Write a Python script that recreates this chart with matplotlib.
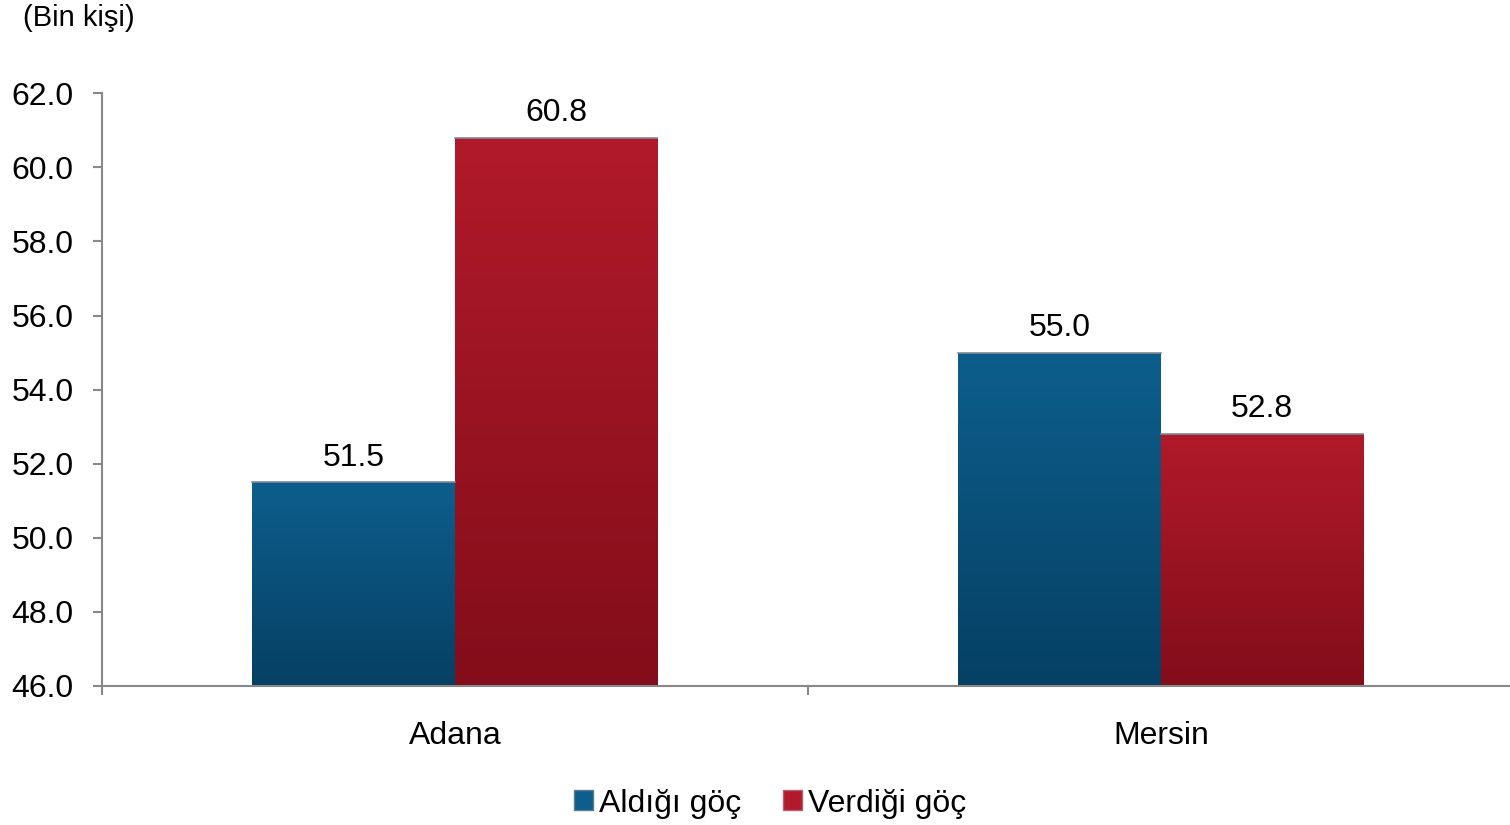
import numpy as np
import matplotlib.pyplot as plt
from matplotlib.colors import LinearSegmentedColormap
from matplotlib.patches import Patch

plt.rcParams['font.family'] = ['Liberation Sans', 'DejaVu Sans']

cities = ['Adana', 'Mersin']
aldigi = [51.5, 55.0]
verdigi = [60.8, 52.8]
series_names = ['Aldığı göç', 'Verdiği göç']

blue_top, blue_bot = '#0d5e8c', '#064064'
red_top, red_bot = '#b11a2a', '#830d1a'

fig = plt.figure(figsize=(15.1, 8.25), dpi=100)
ax = fig.add_axes([0.0675, 0.1685, 0.935, 0.7185])

x = np.arange(len(cities))
w = 0.287
ymin = 46.0

b1 = ax.bar(x - w / 2, np.array(aldigi) - ymin, w, bottom=ymin, color='none')
b2 = ax.bar(x + w / 2, np.array(verdigi) - ymin, w, bottom=ymin, color='none')


def gradient_fill(bars, top, bot):
    cmap = LinearSegmentedColormap.from_list('g', [bot, top])
    grad = np.linspace(0, 1, 256).reshape(-1, 1)
    for p in bars:
        x0, y0 = p.get_x(), p.get_y()
        x1, y1 = x0 + p.get_width(), y0 + p.get_height()
        im = ax.imshow(grad, cmap=cmap, origin='lower', aspect='auto',
                       extent=[x0, x1, y0, y1], zorder=2, interpolation='bilinear')
        im.set_clip_path(p)
        ax.plot([x0, x1], [y1, y1], color='#7f8a94', lw=1.2, zorder=3)


gradient_fill(b1, blue_top, blue_bot)
gradient_fill(b2, red_top, red_bot)

ax.bar_label(b1, labels=['%.1f' % v for v in aldigi], padding=7, fontsize=23)
ax.bar_label(b2, labels=['%.1f' % v for v in verdigi], padding=7, fontsize=23)

ax.set_xlim(-0.5, 1.5)
ax.set_ylim(46, 62)
ax.set_yticks(np.arange(46, 62.1, 2))
ax.set_yticklabels(['%.1f' % v for v in np.arange(46, 62.1, 2)], fontsize=23)
ax.set_xticks([-0.5, 0.5, 1.5])
ax.set_xticklabels([])
ax.set_xticks(x, minor=True)
ax.set_xticklabels(cities, minor=True, fontsize=23)
ax.tick_params(axis='x', which='minor', length=0, pad=25)
ax.tick_params(axis='x', which='major', length=6.5, width=1.5, color='#888888', direction='out')
ax.tick_params(axis='y', length=6.5, width=1.5, color='#888888', direction='out', pad=14)

for s in ['top', 'right']:
    ax.spines[s].set_visible(False)
for s in ['left', 'bottom']:
    ax.spines[s].set_color('#888888')
    ax.spines[s].set_linewidth(1.5)

handles = [Patch(facecolor=blue_top, edgecolor='#5a7a90'),
           Patch(facecolor=red_top, edgecolor='#b06070')]
fig.legend(handles, series_names, loc='center', bbox_to_anchor=(0.510, 0.026),
           ncol=2, frameon=False, fontsize=23, handlelength=0.6, handleheight=0.6,
           handletextpad=0.2, columnspacing=1.3)

fig.text(0.015, 0.978, '(Bin kişi)', fontsize=21, va='center', ha='left')

fig.savefig('out.png', dpi=100)
